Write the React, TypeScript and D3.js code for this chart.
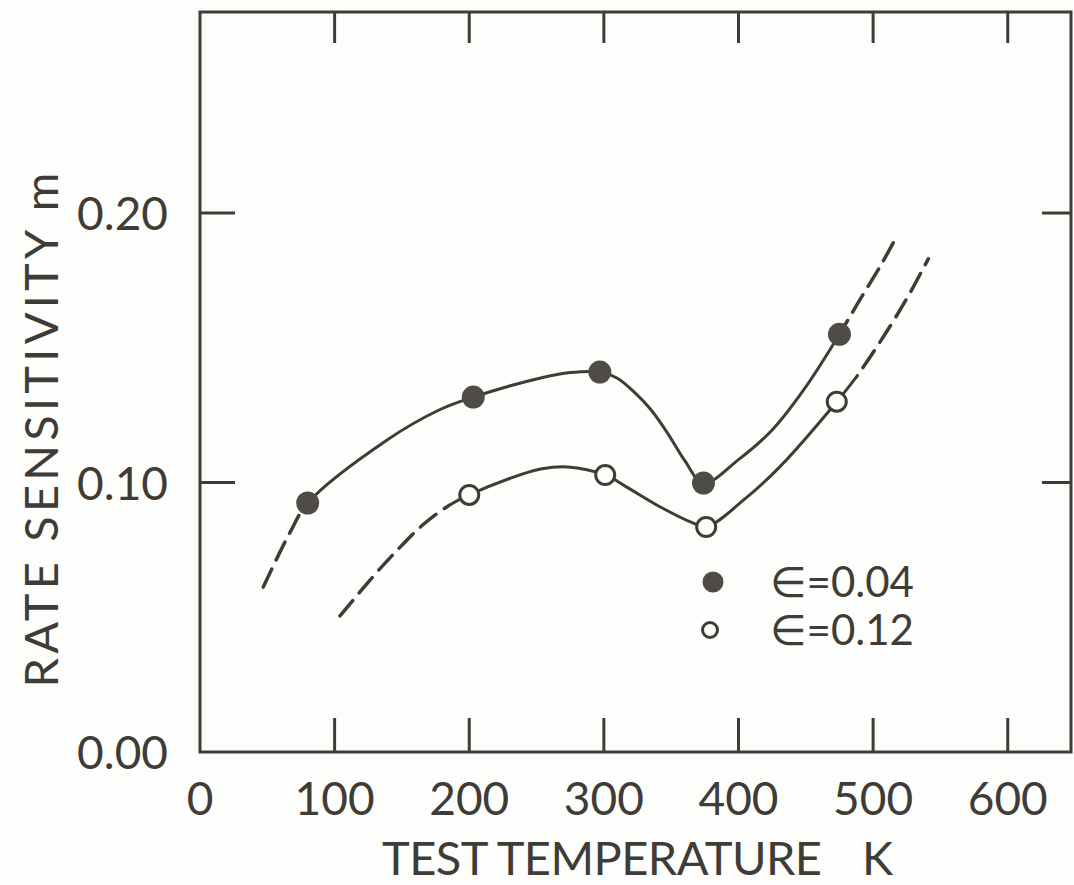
import React from 'react';
import * as d3 from 'd3';

// ---- axis ticks ----
const xTickValues = [0, 100, 200, 300, 400, 500, 600];
const xTickLabels = ['0', '100', '200', '300', '400', '500', '600'];
const yTickValues = [0, 0.1, 0.2];
const yTickLabels = ['0.00', '0.10', '0.20'];

// ---- measured points ----
const tempFilled = [80, 203, 297, 374, 475];
const mFilled = [0.0924, 0.1317, 0.141, 0.0998, 0.155];
const tempOpen = [200, 301, 376, 473];
const mOpen = [0.0954, 0.1028, 0.0835, 0.13];

// ---- hand-drawn curves ----
const filledDashLowT = [47, 59, 67];
const filledDashLowM = [0.0612, 0.0738, 0.0816];
const filledSolidT = [80, 139, 178, 203, 253, 275, 297, 310, 322, 335, 348, 360, 374, 400, 425, 450, 475];
const filledSolidM = [0.0924, 0.1158, 0.127, 0.1317, 0.1388, 0.1408, 0.141, 0.1387, 0.1338, 0.127, 0.1178, 0.1082, 0.0998, 0.1085, 0.1195, 0.1355, 0.155];
const filledDashHighT = [490, 505, 515];
const filledDashHighM = [0.1677, 0.18, 0.189];

const openDashLowT = [104, 131, 149, 166];
const openDashLowM = [0.0505, 0.0665, 0.0762, 0.0845];
const openSolidT = [185, 200, 230, 253, 273, 301, 317, 342, 366, 376, 405, 431, 473, 488];
const openSolidM = [0.0915, 0.0954, 0.1015, 0.105, 0.1058, 0.1028, 0.0983, 0.0909, 0.085, 0.0835, 0.094, 0.106, 0.13, 0.1395];
const openDashHighT = [512.6, 527, 541];
const openDashHighM = [0.158, 0.17, 0.183];

const legendLabels = ['\u2208=0.04', '\u2208=0.12'];

const W = 1074;
const H = 885;
const INK = '#3f3c37';
const FONT = 'Lato, "DejaVu Sans", sans-serif';

export default function App() {
  const x = d3.scaleLinear().domain([0, 647]).range([200, 1071]);
  const y = d3.scaleLinear().domain([0, 0.2746]).range([752, 12]);
  const line = d3
    .line<[number, number]>()
    .x((d) => x(d[0]))
    .y((d) => y(d[1]))
    .curve(d3.curveCatmullRom.alpha(0.5));
  const zip = (t: number[], m: number[]) => t.map((v, i) => [v, m[i]] as [number, number]);

  const curves = [
    {
      id: 'f',
      pts: [
        ...zip(filledDashLowT, filledDashLowM),
        ...zip(filledSolidT, filledSolidM),
        ...zip(filledDashHighT, filledDashHighM),
      ],
      s0: filledSolidT[0],
      s1: filledSolidT[filledSolidT.length - 1],
    },
    {
      id: 'o',
      pts: [
        ...zip(openDashLowT, openDashLowM),
        ...zip(openSolidT, openSolidM),
        ...zip(openDashHighT, openDashHighM),
      ],
      s0: openSolidT[0],
      s1: openSolidT[openSolidT.length - 1],
    },
  ];

  const x0 = x(0), x1 = x(647), y0 = y(0), y1 = y(0.2746);

  return (
    <svg
      width={W}
      height={H}
      style={{ position: 'absolute', left: 0, top: 0, background: '#fdfdfb' }}
    >
      <defs>
        {curves.map((c) => (
          <React.Fragment key={'cp' + c.id}>
            <clipPath id={'solid-' + c.id}>
              <rect x={x(c.s0)} y={0} width={x(c.s1) - x(c.s0)} height={H} />
            </clipPath>
            <clipPath id={'dash-' + c.id}>
              <rect x={0} y={0} width={x(c.s0)} height={H} />
              <rect x={x(c.s1)} y={0} width={W - x(c.s1)} height={H} />
            </clipPath>
          </React.Fragment>
        ))}
      </defs>
      {/* frame */}
      <rect x={x0} y={y1} width={x1 - x0} height={y0 - y1} fill="none" stroke={INK} strokeWidth={3} />
      {/* x ticks top & bottom */}
      {xTickValues.filter((v) => v > 0).map((v) => (
        <g key={'xt' + v}>
          <line x1={x(v)} x2={x(v)} y1={y0} y2={y0 - 34} stroke={INK} strokeWidth={3} />
          <line x1={x(v)} x2={x(v)} y1={y1} y2={y1 + 31} stroke={INK} strokeWidth={3} />
        </g>
      ))}
      {/* y ticks left & right */}
      {yTickValues.filter((v) => v > 0).map((v) => (
        <g key={'yt' + v}>
          <line x1={x0} x2={x0 + 35} y1={y(v)} y2={y(v)} stroke={INK} strokeWidth={3} />
          <line x1={x1} x2={x1 - 29} y1={y(v)} y2={y(v)} stroke={INK} strokeWidth={3} />
        </g>
      ))}
      {/* x tick labels */}
      {xTickValues.map((v, i) => (
        <text key={'xl' + v} x={x(v)} y={815} textAnchor="middle" fontFamily={FONT} fontSize={46} fill={INK}>
          {xTickLabels[i]}
        </text>
      ))}
      {/* y tick labels */}
      {yTickValues.map((v, i) => (
        <text key={'yl' + v} x={168} y={y(v) + 17} textAnchor="end" fontFamily={FONT} fontSize={46} fill={INK}>
          {yTickLabels[i]}
        </text>
      ))}
      {/* axis titles */}
      <text x={382} y={875} fontFamily={FONT} fontSize={47} fill={INK} textLength={440} lengthAdjust="spacing">
        TEST TEMPERATURE
      </text>
      <text x={862} y={875} fontFamily={FONT} fontSize={47} fill={INK}>
        K
      </text>
      <text
        transform="translate(58,430) rotate(-90)"
        textAnchor="middle"
        fontFamily={FONT}
        fontSize={47}
        fill={INK}
        textLength={515}
        lengthAdjust="spacing"
      >
        RATE SENSITIVITY m
      </text>

      {/* curves: solid middle part, dashed extrapolated ends */}
      {curves.map((c) => (
        <g key={'c' + c.id}>
          <path d={line(c.pts) || ''} fill="none" stroke={INK} strokeWidth={3} clipPath={`url(#solid-${c.id})`} />
          <path
            d={line(c.pts) || ''}
            fill="none"
            stroke={INK}
            strokeWidth={3.5}
            strokeDasharray="20 10"
            strokeLinecap="round"
            clipPath={`url(#dash-${c.id})`}
          />
        </g>
      ))}

      {/* points */}
      {tempFilled.map((t, i) => (
        <circle key={'pf' + i} cx={x(t)} cy={y(mFilled[i])} r={11.5} fill="#4f4c47" />
      ))}
      {tempOpen.map((t, i) => (
        <circle key={'po' + i} cx={x(t)} cy={y(mOpen[i])} r={9.5} fill="#fdfdfb" stroke={INK} strokeWidth={3} />
      ))}

      {/* legend */}
      <circle cx={713} cy={582} r={10.5} fill="#4f4c47" />
      <circle cx={710} cy={630} r={7.5} fill="#fdfdfb" stroke={INK} strokeWidth={3} />
      <text x={770} y={597} fontFamily={FONT} fontSize={42} fill={INK}>
        {legendLabels[0]}
      </text>
      <text x={770} y={645} fontFamily={FONT} fontSize={42} fill={INK}>
        {legendLabels[1]}
      </text>
    </svg>
  );
}
